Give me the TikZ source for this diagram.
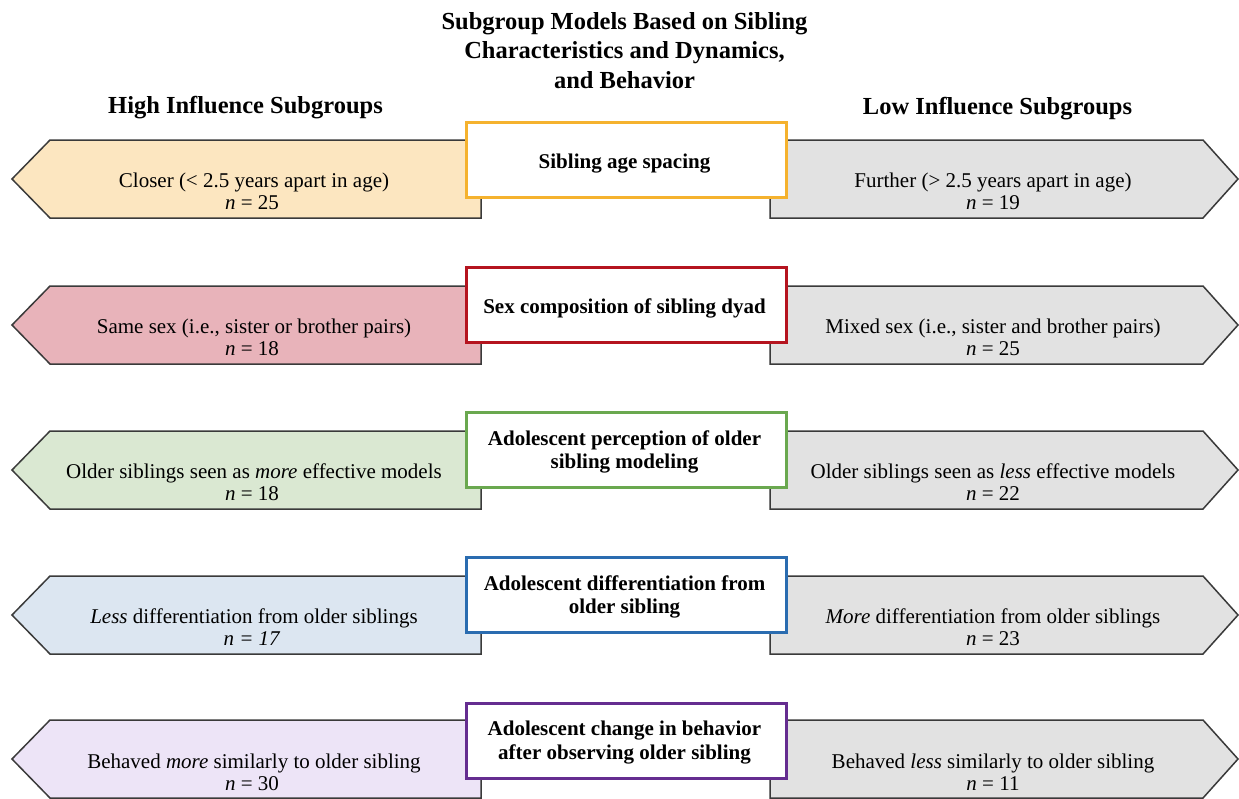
\documentclass[tikz,border=0pt]{standalone}
\usepackage{fontspec}
\setmainfont{Liberation Serif}
\definecolor{edgegray}{HTML}{3A3A3A}
\definecolor{lowfill}{HTML}{E2E2E2}
\definecolor{fillA}{HTML}{FCE6C0}
\definecolor{fillB}{HTML}{E8B3BA}
\definecolor{fillC}{HTML}{DAE8D2}
\definecolor{fillD}{HTML}{DCE6F1}
\definecolor{fillE}{HTML}{EDE4F7}
\definecolor{rimA}{HTML}{F5B22E}
\definecolor{rimB}{HTML}{B5141F}
\definecolor{rimC}{HTML}{6AA84F}
\definecolor{rimD}{HTML}{2A6CB0}
\definecolor{rimE}{HTML}{652D90}
\begin{document}
\begin{tikzpicture}[x=1pt,y=-1pt,
  banner/.style={draw=edgegray, line width=1.5pt, line join=miter},
  catbox/.style={draw, line width=3pt, fill=white, minimum width=320pt,
    minimum height=75pt, anchor=north west, inner sep=0pt},
  bodytxt/.style={font=\fontsize{21}{22}\selectfont, anchor=base, inner sep=0pt},
  boxtxt/.style={font=\bfseries\fontsize{21}{22}\selectfont, anchor=base, inner sep=0pt},
  headtxt/.style={font=\bfseries\fontsize{24.5}{29}\selectfont, anchor=base, inner sep=0pt}]
\useasboundingbox[fill=white] (0,0) rectangle (1239,798);

% titles
\node[headtxt] (title1) at (624.5,29) {Subgroup Models Based on Sibling};
\node[headtxt] (title2) at (624.5,58.5) {Characteristics and Dynamics,};
\node[headtxt] (title3) at (624.5,88) {and Behavior};
\node[headtxt] (highhead) at (245.5,113) {High Influence Subgroups};
\node[headtxt] (lowhead) at (997.5,114) {Low Influence Subgroups};

% banner pair: left (high) and right (low) arrows for one row
\newcommand{\bannerpair}[1]{%
  \path[banner, fill=#1] (481,0) -- (50,0) -- (12,39) -- (50,78) -- (481,78) -- cycle;
  \path[banner, fill=lowfill] (770,0) -- (1203,0) -- (1238,39) -- (1203,78) -- (770,78) -- cycle;}

% row 1
\begin{scope}[shift={(0,140)}]
  \bannerpair{fillA}
  \node[catbox, draw=rimA] (box1) at (464.5,-19.5) {};
  \node[boxtxt] (box1t) at (624.5,28) {Sibling age spacing};
  \node[bodytxt] (hi1a) at (254,47) {Closer (< 2.5 years apart in age)};
  \node[bodytxt] (hi1b) at (252,69) {\textit{n} = 25};
  \node[bodytxt] (lo1a) at (993,47) {Further (> 2.5 years apart in age)};
  \node[bodytxt] (lo1b) at (993,69) {\textit{n} = 19};
\end{scope}

% row 2
\begin{scope}[shift={(0,286)}]
  \bannerpair{fillB}
  \node[catbox, draw=rimB] (box2) at (464.5,-20.5) {};
  \node[boxtxt] (box2t) at (624.5,27) {Sex composition of sibling dyad};
  \node[bodytxt] (hi2a) at (254,47) {Same sex (i.e., sister or brother pairs)};
  \node[bodytxt] (hi2b) at (252,69) {\textit{n} = 18};
  \node[bodytxt] (lo2a) at (993,47) {Mixed sex (i.e., sister and brother pairs)};
  \node[bodytxt] (lo2b) at (993,69) {\textit{n} = 25};
\end{scope}

% row 3
\begin{scope}[shift={(0,431)}]
  \bannerpair{fillC}
  \node[catbox, draw=rimC] (box3) at (464.5,-20.5) {};
  \node[boxtxt] (box3a) at (624.5,14) {Adolescent perception of older};
  \node[boxtxt] (box3b) at (624.5,37) {sibling modeling};
  \node[bodytxt] (hi3a) at (254,47) {Older siblings seen as \textit{more} effective models};
  \node[bodytxt] (hi3b) at (252,69) {\textit{n} = 18};
  \node[bodytxt] (lo3a) at (993,47) {Older siblings seen as \textit{less} effective models};
  \node[bodytxt] (lo3b) at (993,69) {\textit{n} = 22};
\end{scope}

% row 4
\begin{scope}[shift={(0,576)}]
  \bannerpair{fillD}
  \node[catbox, draw=rimD] (box4) at (464.5,-20.5) {};
  \node[boxtxt] (box4a) at (624.5,14) {Adolescent differentiation from};
  \node[boxtxt] (box4b) at (624.5,37) {older sibling};
  \node[bodytxt] (hi4a) at (254,47) {\textit{Less} differentiation from older siblings};
  \node[bodytxt] (hi4b) at (252,69) {\textit{n = 17}};
  \node[bodytxt] (lo4a) at (993,47) {\textit{More} differentiation from older siblings};
  \node[bodytxt] (lo4b) at (993,69) {\textit{n} = 23};
\end{scope}

% row 5
\begin{scope}[shift={(0,720)}]
  \bannerpair{fillE}
  \node[catbox, draw=rimE] (box5) at (464.5,-18.5) {};
  \node[boxtxt] (box5a) at (624.5,15) {Adolescent change in behavior};
  \node[boxtxt] (box5b) at (624.5,39) {after observing older sibling};
  \node[bodytxt] (hi5a) at (254,48) {Behaved \textit{more} similarly to older sibling};
  \node[bodytxt] (hi5b) at (252,70) {\textit{n} = 30};
  \node[bodytxt] (lo5a) at (993,48) {Behaved \textit{less} similarly to older sibling};
  \node[bodytxt] (lo5b) at (993,70) {\textit{n} = 11};
\end{scope}
\end{tikzpicture}
\end{document}
